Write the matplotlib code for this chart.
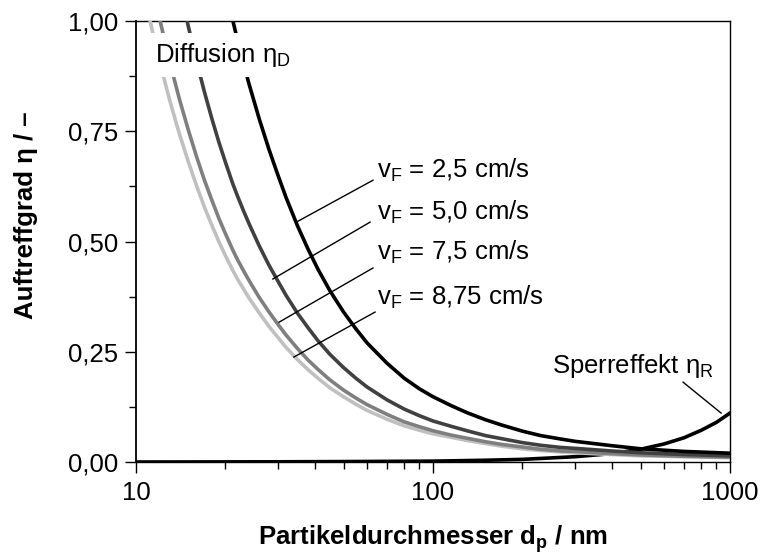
import matplotlib
matplotlib.use('Agg')
import matplotlib.pyplot as plt
from matplotlib.ticker import FuncFormatter, LogLocator, NullFormatter, MultipleLocator

plt.rcParams['font.family'] = ['Liberation Sans', 'DejaVu Sans']
plt.rcParams['mathtext.fontset'] = 'custom'
plt.rcParams['mathtext.rm'] = 'Liberation Sans'
plt.rcParams['mathtext.it'] = 'Liberation Sans:italic'
plt.rcParams['mathtext.bf'] = 'Liberation Sans:bold'

# diffusion efficiency (d in nm)
d_25 = [20, 21.2, 22, 23, 24, 26, 28, 30, 32, 35, 38, 41, 45, 50, 55, 60, 70, 80, 90, 100,
        115, 130, 150, 170, 200, 230, 270, 300, 400, 500, 700, 1000]
eta_25 = [1.08, 1.0, 0.955, 0.905, 0.858, 0.778, 0.710, 0.652, 0.600, 0.535, 0.482, 0.437,
          0.388, 0.340, 0.302, 0.270, 0.224, 0.190, 0.166, 0.148, 0.128, 0.112, 0.096, 0.084,
          0.070, 0.060, 0.052, 0.047, 0.037, 0.030, 0.024, 0.020]

d_50 = [14, 15, 16, 17, 18, 19, 20, 21.2, 22, 23, 24, 26, 28, 30, 32, 35, 38, 41, 45, 50, 55,
        60, 70, 80, 90, 100, 115, 130, 150, 170, 200, 230, 270, 300, 400, 500, 700, 1000]
eta_50 = [1.08, 0.988, 0.908, 0.839, 0.779, 0.726, 0.680, 0.630, 0.602, 0.570, 0.541, 0.490,
          0.447, 0.411, 0.378, 0.337, 0.304, 0.275, 0.244, 0.214, 0.190, 0.170, 0.141, 0.120,
          0.105, 0.093, 0.081, 0.071, 0.060, 0.053, 0.044, 0.038, 0.033, 0.031, 0.025, 0.021,
          0.017, 0.014]

d_75 = [11.5, 12, 13, 14, 15, 16, 17, 18, 19, 20, 21.2, 22, 23, 24, 26, 28, 30, 32, 35, 38,
        41, 45, 50, 55, 60, 70, 80, 90, 100, 115, 130, 150, 170, 200, 230, 270, 300, 400, 500,
        700, 1000]
eta_75 = [1.063, 1.006, 0.906, 0.823, 0.753, 0.692, 0.639, 0.594, 0.553, 0.518, 0.480, 0.458,
          0.434, 0.412, 0.373, 0.341, 0.313, 0.288, 0.257, 0.231, 0.210, 0.186, 0.163, 0.145,
          0.130, 0.108, 0.091, 0.080, 0.071, 0.061, 0.054, 0.046, 0.040, 0.034, 0.029, 0.025,
          0.024, 0.019, 0.016, 0.013, 0.011]

d_875 = [10.5, 11, 11.5, 12, 13, 14, 15, 16, 17, 18, 19, 20, 21.2, 22, 23, 24, 26, 28, 30, 32,
         35, 38, 41, 45, 50, 55, 60, 70, 80, 90, 100, 115, 130, 150, 170, 200, 230, 270, 300,
         400, 500, 700, 1000]
eta_875 = [1.082, 1.018, 0.961, 0.909, 0.819, 0.744, 0.681, 0.626, 0.578, 0.537, 0.500, 0.468,
           0.434, 0.414, 0.393, 0.372, 0.338, 0.308, 0.283, 0.260, 0.232, 0.209, 0.190, 0.168,
           0.148, 0.131, 0.117, 0.097, 0.082, 0.072, 0.064, 0.056, 0.049, 0.042, 0.036, 0.030,
           0.026, 0.023, 0.021, 0.017, 0.014, 0.012, 0.010]

# interception (Sperreffekt)
d_R = [10, 30, 50, 100, 150, 200, 300, 400, 500, 600, 700, 800, 900, 1000]
eta_R = [0.0, 0.0005, 0.001, 0.002, 0.004, 0.006, 0.012, 0.019, 0.029, 0.041, 0.055, 0.072,
         0.090, 0.111]

fig = plt.figure(figsize=(7.61, 5.59), dpi=100)
ax = fig.add_axes([0.1787, 0.1735, 0.7806, 0.7889])

lw = 2.6
ax.plot(d_R, eta_R, color='black', lw=lw, zorder=3)
ax.plot(d_875, eta_875, color='#c0c0c0', lw=lw, zorder=4)
ax.plot(d_75, eta_75, color='#7f7f7f', lw=lw, zorder=5)
ax.plot(d_50, eta_50, color='#404040', lw=lw, zorder=6)
ax.plot(d_25, eta_25, color='black', lw=lw, zorder=7)

ax.set_xscale('log')
ax.set_xlim(10, 1000)
ax.set_ylim(0, 1)

fs = 18.5
ax.xaxis.set_major_locator(LogLocator(base=10))
ax.xaxis.set_minor_locator(LogLocator(base=10, subs=range(2, 10)))
ax.xaxis.set_major_formatter(FuncFormatter(lambda v, p: f'{v:g}'))
ax.xaxis.set_minor_formatter(NullFormatter())
ax.yaxis.set_major_locator(MultipleLocator(0.25))
ax.yaxis.set_minor_locator(MultipleLocator(0.125))
ax.yaxis.set_major_formatter(FuncFormatter(lambda v, p: f'{v:.2f}'.replace('.', ',')))

ax.tick_params(which='major', direction='out', length=8, width=1, labelsize=fs)
ax.tick_params(which='minor', direction='out', length=5, width=1)
ax.tick_params(axis='x', which='major', pad=6)
ax.tick_params(axis='y', which='major', pad=5)
for s in ax.spines.values():
    s.set_linewidth(1.0)
ax.spines['left'].set_linewidth(1.3)

ax.set_xlabel(r'Partikeldurchmesser $\mathbf{d_p}$ / nm', fontsize=fs, fontweight='bold')
ax.set_ylabel('Auftreffgrad η / –', fontsize=fs, fontweight='bold')
ax.xaxis.set_label_coords(0.5, -0.138)
ax.yaxis.set_label_coords(-0.165, 0.56)

# labels
ax.text(11.6, 0.907, r'Diffusion $\mathregular{\eta_D}$', fontsize=fs, va='baseline', zorder=10,
        bbox=dict(facecolor='white', edgecolor='none', pad=6))

labels = [r'$\mathregular{v_F}$ = 2,5 cm/s', r'$\mathregular{v_F}$ = 5,0 cm/s',
          r'$\mathregular{v_F}$ = 7,5 cm/s', r'$\mathregular{v_F}$ = 8,75 cm/s']
line_start = [(35.1, 0.546), (28.9, 0.415), (30.3, 0.317), (34.0, 0.238)]
line_end = [(62.8, 0.639), (61.4, 0.544), (62.8, 0.440), (63.8, 0.340)]
text_y = [0.644, 0.549, 0.458, 0.356]
for lab, (x0, y0), (x1, y1), ty in zip(labels, line_start, line_end, text_y):
    ax.plot([x0, x1], [y0, y1], color='black', lw=1, zorder=8)
    ax.text(65, ty, lab, fontsize=fs, va='baseline', zorder=10)

ax.plot([695, 933], [0.181, 0.111], color='black', lw=1, zorder=8)
ax.text(251.6, 0.2018, r'Sperreffekt $\mathregular{\eta_R}$', fontsize=fs, va='baseline', zorder=10)

fig.savefig('out.png', dpi=100)
